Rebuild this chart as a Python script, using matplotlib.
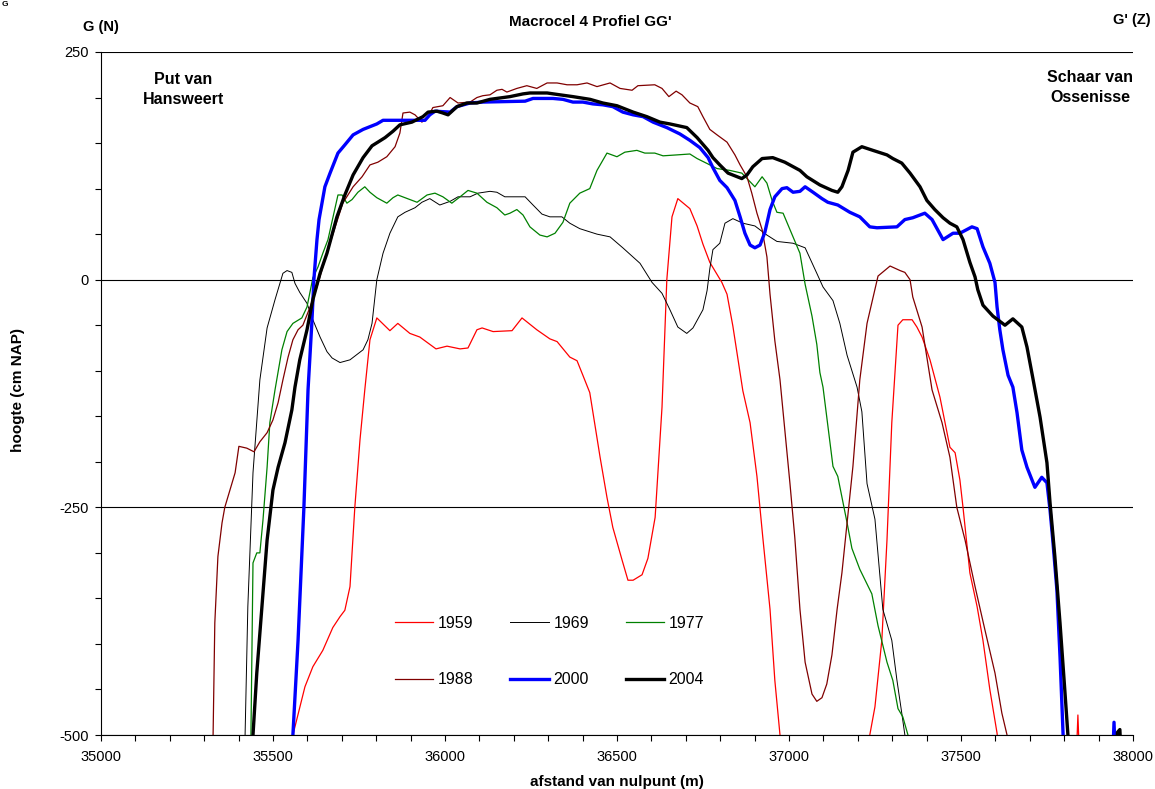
import matplotlib
matplotlib.use("Agg")
import matplotlib.pyplot as plt
from matplotlib.ticker import MultipleLocator

plt.rcParams['font.family'] = ['Liberation Sans', 'DejaVu Sans']
plt.rcParams['axes.unicode_minus'] = False

# afstand (m) / hoogte (cm NAP) per jaar
x_1959 = [35558, 35593, 35616, 35645, 35674, 35695, 35709, 35724, 35738, 35753,
          35767, 35782, 35802, 35840, 35863, 35898, 35927, 35974, 36006, 36044,
          36067, 36093, 36108, 36140, 36195, 36224, 36267, 36305, 36326, 36363,
          36384, 36401, 36421, 36451, 36471, 36488, 36515, 36532, 36547, 36573,
          36590, 36611, 36631, 36645, 36660, 36677, 36712, 36733, 36750, 36770,
          36805, 36820, 36837, 36866, 36887, 36907, 36924, 36945, 36959, 36974,
          37000, 37210, 37235, 37250, 37270, 37285, 37299, 37317, 37331, 37358,
          37372, 37387, 37410, 37439, 37468, 37483, 37497, 37506, 37526, 37547,
          37564, 37584, 37605, 37620, 37832, 37840, 37848]
h_1959 = [-500, -447, -425, -407, -382, -370, -363, -337, -250, -176,
          -121, -66, -42, -56, -48, -59, -63, -76, -73, -76,
          -75, -55, -53, -57, -56, -42, -55, -65, -68, -85,
          -89, -105, -124, -195, -239, -272, -308, -330, -330, -324,
          -306, -261, -140, 0, 69, 89, 78, 59, 39, 19,
          -3, -16, -51, -122, -157, -216, -283, -362, -440, -500,
          -560, -560, -500, -469, -396, -286, -157, -50, -44, -44,
          -52, -63, -88, -129, -184, -190, -220, -250, -322, -359,
          -396, -450, -498, -560, -560, -478, -560]

x_1969 = [35419, 35427, 35442, 35462, 35483, 35506, 35529, 35541, 35555, 35564,
          35578, 35599, 35616, 35637, 35657, 35672, 35695, 35724, 35762, 35776,
          35788, 35802, 35820, 35840, 35863, 35884, 35913, 35933, 35956, 35985,
          36015, 36038, 36073, 36096, 36131, 36151, 36174, 36233, 36256, 36282,
          36305, 36340, 36363, 36392, 36442, 36480, 36517, 36567, 36602, 36631,
          36654, 36677, 36703, 36721, 36750, 36762, 36770, 36779, 36799, 36814,
          36837, 36866, 36901, 36936, 36965, 37012, 37047, 37081, 37099, 37128,
          37148, 37169, 37198, 37212, 37227, 37250, 37273, 37299, 37314, 37328,
          37337]
h_1969 = [-500, -359, -212, -110, -53, -22, 7, 10, 8, -4,
          -14, -26, -44, -63, -79, -86, -91, -88, -77, -66,
          -48, 0, 29, 51, 69, 74, 79, 85, 89, 82,
          86, 91, 91, 95, 97, 96, 91, 91, 82, 72,
          69, 69, 62, 56, 50, 47, 35, 18, -3, -15,
          -33, -52, -59, -53, -33, -12, 12, 33, 40, 62,
          67, 62, 59, 49, 42, 40, 35, 7, -8, -23,
          -48, -83, -118, -145, -224, -263, -362, -396, -440, -476,
          -500]

x_1977 = [35436, 35442, 35453, 35462, 35471, 35483, 35491, 35506, 35526, 35541,
          35558, 35584, 35599, 35616, 35631, 35645, 35660, 35689, 35701, 35715,
          35730, 35747, 35767, 35782, 35802, 35831, 35849, 35863, 35884, 35919,
          35948, 35971, 35994, 36020, 36044, 36067, 36093, 36122, 36151, 36174,
          36189, 36209, 36227, 36247, 36276, 36297, 36320, 36343, 36363, 36392,
          36421, 36442, 36471, 36500, 36523, 36558, 36581, 36610, 36634, 36674,
          36712, 36733, 36765, 36791, 36828, 36863, 36901, 36922, 36936, 36951,
          36965, 36983, 37003, 37032, 37047, 37067, 37081, 37090, 37099, 37128,
          37142, 37169, 37183, 37206, 37241, 37259, 37285, 37302, 37317, 37331,
          37346]
h_1977 = [-500, -311, -300, -300, -264, -206, -157, -121, -77, -57,
          -48, -42, -30, 2, 14, 29, 44, 93, 93, 84,
          88, 96, 102, 96, 90, 84, 90, 93, 90, 85,
          93, 95, 91, 84, 91, 98, 95, 85, 79, 71,
          73, 77, 71, 58, 49, 47, 51, 63, 84, 95,
          100, 120, 139, 135, 140, 142, 139, 139, 136, 137,
          138, 133, 127, 122, 120, 117, 102, 113, 106, 87,
          74, 73, 55, 29, -5, -40, -71, -102, -118, -205,
          -216, -267, -295, -318, -345, -380, -420, -440, -471, -480,
          -500]

x_1988 = [35326, 35331, 35340, 35352, 35360, 35375, 35390, 35401, 35424, 35445,
          35462, 35483, 35500, 35515, 35529, 35544, 35558, 35573, 35587, 35608,
          35628, 35645, 35660, 35703, 35733, 35759, 35782, 35805, 35831, 35855,
          35869, 35878, 35898, 35913, 35933, 35951, 35965, 35994, 36015, 36038,
          36073, 36093, 36110, 36131, 36151, 36166, 36180, 36209, 36238, 36267,
          36297, 36326, 36355, 36384, 36413, 36442, 36480, 36509, 36544, 36561,
          36610, 36631, 36651, 36672, 36689, 36712, 36735, 36750, 36770, 36791,
          36820, 36843, 36858, 36878, 36892, 36907, 36922, 36936, 36945, 36959,
          36974, 36988, 37003, 37017, 37032, 37047, 37067, 37081, 37096, 37110,
          37125, 37140, 37154, 37169, 37186, 37206, 37227, 37259, 37294, 37323,
          37337, 37352, 37360, 37387, 37416, 37445, 37468, 37488, 37512, 37541,
          37570, 37599, 37619, 37634]
h_1988 = [-500, -377, -304, -267, -250, -231, -212, -183, -185, -189,
          -178, -168, -154, -135, -110, -85, -66, -55, -50, -30,
          -8, 14, 33, 84, 102, 113, 126, 129, 135, 146,
          161, 183, 184, 181, 173, 179, 189, 191, 200, 194,
          195, 200, 202, 203, 208, 209, 206, 210, 213, 210,
          216, 216, 214, 214, 216, 212, 216, 210, 208, 213,
          214, 210, 201, 207, 203, 194, 190, 179, 165, 159,
          151, 137, 126, 113, 95, 73, 55, 25, -16, -67,
          -110, -165, -224, -283, -362, -420, -455, -463, -459, -444,
          -412, -362, -322, -267, -205, -110, -48, 4, 15, 10,
          8, 0, -19, -52, -121, -157, -195, -250, -286, -337,
          -385, -432, -476, -500]

x_2000 = [35558, 35573, 35590, 35602, 35613, 35619, 35628, 35634, 35651, 35666,
          35689, 35709, 35733, 35762, 35802, 35820, 35942, 35956, 35971, 36015,
          36035, 36073, 36110, 36233, 36256, 36314, 36343, 36372, 36401, 36430,
          36459, 36488, 36517, 36547, 36576, 36605, 36645, 36683, 36712, 36741,
          36765, 36779, 36799, 36820, 36843, 36858, 36872, 36887, 36901, 36916,
          36930, 36945, 36959, 36980, 36994, 37012, 37032, 37047, 37070, 37096,
          37113, 37142, 37177, 37206, 37235, 37256, 37314, 37337, 37360, 37395,
          37416, 37448, 37477, 37497, 37532, 37547, 37564, 37584, 37599, 37605,
          37613, 37622, 37637, 37651, 37663, 37677, 37692, 37715, 37735, 37750,
          37759, 37767, 37779, 37788, 37797, 37810, 37938, 37945, 37952]
h_2000 = [-500, -396, -250, -121, -48, 0, 44, 66, 102, 117,
          139, 148, 159, 165, 171, 175, 175, 181, 185, 184,
          190, 194, 195, 196, 199, 199, 198, 195, 195, 193,
          192, 190, 184, 181, 179, 173, 167, 160, 153, 145,
          134, 123, 109, 101, 87, 69, 51, 38, 35, 38,
          52, 77, 91, 100, 101, 96, 97, 102, 96, 89,
          85, 82, 74, 69, 58, 57, 58, 66, 68, 73,
          66, 44, 51, 51, 58, 56, 36, 18, -3, -30,
          -55, -77, -105, -118, -146, -187, -206, -228, -217, -223,
          -253, -286, -341, -414, -500, -560, -560, -486, -560]

x_2004 = [35442, 35453, 35468, 35483, 35500, 35515, 35535, 35555, 35564, 35578,
          35599, 35616, 35637, 35657, 35686, 35709, 35733, 35762, 35788, 35805,
          35826, 35849, 35869, 35904, 35936, 35951, 35977, 35994, 36009, 36035,
          36064, 36093, 36131, 36189, 36227, 36247, 36297, 36334, 36372, 36422,
          36459, 36500, 36547, 36587, 36625, 36654, 36703, 36733, 36765, 36779,
          36799, 36823, 36843, 36863, 36878, 36895, 36922, 36953, 36988, 37032,
          37052, 37090, 37125, 37142, 37154, 37172, 37186, 37212, 37244, 37285,
          37302, 37328, 37352, 37381, 37401, 37424, 37448, 37468, 37488, 37506,
          37526, 37541, 37549, 37564, 37593, 37628, 37651, 37677, 37692, 37709,
          37730, 37750, 37759, 37773, 37788, 37802, 37811, 37825, 37948, 37955,
          37962, 37970]
h_2004 = [-500, -432, -359, -286, -231, -206, -179, -143, -118, -88,
          -55, -22, 7, 29, 69, 93, 115, 134, 147, 151,
          156, 163, 170, 173, 179, 184, 185, 183, 181, 190,
          194, 194, 198, 201, 204, 205, 205, 203, 201, 198,
          194, 191, 184, 179, 173, 171, 167, 156, 142, 134,
          126, 117, 114, 111, 115, 124, 133, 134, 129, 120,
          113, 104, 98, 96, 102, 120, 140, 146, 142, 137,
          133, 128, 117, 102, 87, 77, 68, 62, 58, 44,
          19, 3, -11, -28, -40, -50, -43, -52, -74, -108,
          -151, -201, -245, -304, -377, -451, -500, -560, -560, -497,
          -494, -560]

series = [
    ("1959", x_1959, h_1959, "#ff0000", 0.9),
    ("1969", x_1969, h_1969, "#000000", 0.7),
    ("1977", x_1977, h_1977, "#008000", 0.9),
    ("1988", x_1988, h_1988, "#800000", 0.9),
    ("2000", x_2000, h_2000, "#0000ff", 2.4),
    ("2004", x_2004, h_2004, "#000000", 2.4),
]

fig = plt.figure(figsize=(11.55, 7.89), dpi=100)
ax = fig.add_axes([0.0874, 0.0684, 0.8935, 0.8657])

lines = {}
for name, xs, hs, color, lw in series:
    lines[name], = ax.plot(xs, hs, color=color, lw=lw, label=name)

ax.set_xlim(35000, 38000)
ax.set_ylim(-500, 250)
ax.xaxis.set_major_locator(MultipleLocator(500))
ax.xaxis.set_minor_locator(MultipleLocator(100))
ax.yaxis.set_major_locator(MultipleLocator(250))
ax.yaxis.set_minor_locator(MultipleLocator(50))
ax.tick_params(which='both', direction='out', length=4, width=0.8, labelsize=10.5)
ax.tick_params(axis='x', pad=7)
ax.tick_params(axis='y', pad=5)
ax.yaxis.grid(True, which='major', color='black', lw=0.8)
ax.set_axisbelow(True)
for side in ('top', 'right'):
    ax.spines[side].set_visible(False)
for side in ('left', 'bottom'):
    ax.spines[side].set_linewidth(0.8)

# legenda rij-gewijs, 3 kolommen
order = ["1959", "1988", "1969", "2000", "1977", "2004"]
ax.legend([lines[k] for k in order], order, ncol=3, frameon=False, loc='center',
          bbox_to_anchor=(0.4346, 0.1223), fontsize=11.5, handlelength=2.4,
          handletextpad=0.3, columnspacing=2.3, labelspacing=2.6)

ax.text(0.08, 0.945, "Put van\nHansweert", transform=ax.transAxes, ha='center', va='center',
        fontsize=11.5, fontweight='bold', linespacing=1.35)
ax.text(1.0, 0.948, "Schaar van\nOssenisse", transform=ax.transAxes, ha='right', va='center',
        fontsize=11.5, fontweight='bold', linespacing=1.35, multialignment='center')

fig.text(0.5108, 0.972, "Macrocel 4 Profiel GG'", ha='center', va='center', fontsize=11, fontweight='bold')
fig.text(0.0874, 0.966, "G (N)", ha='center', va='center', fontsize=10.5, fontweight='bold')
fig.text(0.9800, 0.975, "G' (Z)", ha='center', va='center', fontsize=10.5, fontweight='bold')
fig.text(0.001, 0.999, "G", ha='left', va='top', fontsize=6, fontweight='bold')
fig.text(0.0156, 0.506, "hoogte (cm NAP)", rotation=90, ha='center', va='center',
         fontsize=11, fontweight='bold')
fig.text(0.534, 0.009, "afstand van nulpunt (m)", ha='center', va='center',
         fontsize=11, fontweight='bold')

fig.savefig("out.png", dpi=100)
